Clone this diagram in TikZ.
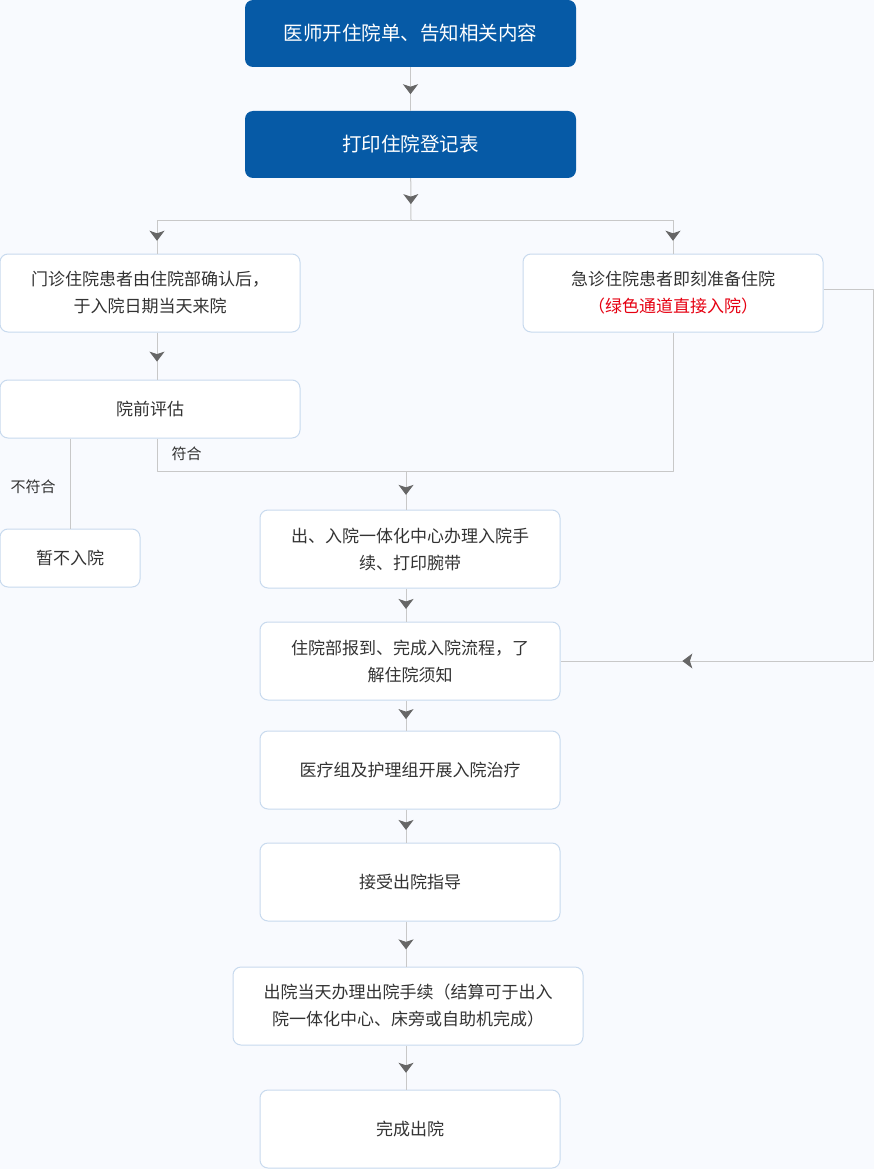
\documentclass[tikz,border=0pt]{standalone}
\usepackage{fontspec}
\setmainfont{Noto Sans CJK SC}
\usetikzlibrary{arrows.meta,decorations.markings}
\definecolor{bg}{RGB}{248,250,254}
\definecolor{navy}{RGB}{6,90,166}
\definecolor{rim}{RGB}{200,218,238}
\definecolor{wire}{RGB}{200,200,200}
\definecolor{tipgrey}{RGB}{102,102,102}
\definecolor{ink}{RGB}{51,51,51}
\definecolor{alert}{RGB}{230,0,18}
\tikzset{
  box/.style={draw=rim, fill=white, rounded corners=8pt, line width=1pt, inner sep=0pt,
    align=center, text=ink, font=\fontsize{17}{27}\selectfont},
  head/.style={fill=navy, rounded corners=8pt, inner sep=0pt, align=center, text=white,
    minimum width=331pt, minimum height=67pt, font=\fontsize{19.5}{27}\selectfont},
  wide/.style={minimum width=300pt, minimum height=78pt},
  link/.style={draw=wire, line width=1pt},
  midarrow/.style={postaction={decorate, decoration={markings,
    mark=at position #1 with {\arrow[color=tipgrey]{Stealth[length=10pt,width=15pt,inset=2.5pt]}}}}},
  midarrow/.default=.62,
  tag/.style={inner sep=0pt, text=ink, font=\fontsize{15}{15}\selectfont}
}
\begin{document}
\begin{tikzpicture}[x=1pt, y=-1pt, line join=round]
  \fill[bg] (0,0) rectangle (874,1169);
  \useasboundingbox (0,0) rectangle (874,1169);
  % boxes
  \node[head] (req) at (410.5,33.5) {医师开住院单、告知相关内容};
  \node[head] (reg) at (410.5,144.5) {打印住院登记表};
  \node[box,wide] (clinic) at (150,293) {门诊住院患者由住院部确认后，\\于入院日期当天来院};
  \node[box,wide] (urgent) at (673,293) {急诊住院患者即刻准备住院\\\textcolor{alert}{（绿色通道直接入院）}};
  \node[box,minimum width=300pt,minimum height=58pt] (assess) at (150,409) {院前评估};
  \node[box,minimum width=140pt,minimum height=58pt] (defer) at (70,558) {暂不入院};
  \node[box,wide] (admit) at (410,549) {出、入院一体化中心办理入院手\\续、打印腕带};
  \node[box,wide] (ward) at (410,661) {住院部报到、完成入院流程，了\\解住院须知};
  \node[box,wide] (treat) at (410,770) {医疗组及护理组开展入院治疗};
  \node[box,wide] (guide) at (410,882) {接受出院指导};
  \node[box,minimum width=350pt,minimum height=78pt] (settle) at (408,1006) {出院当天办理出院手续（结算可于出入\\院一体化中心、床旁或自助机完成）};
  \node[box,wide] (done) at (410,1129) {完成出院};
  \node[tag] (nofit) at (33,487) {不符合};
  \node[tag] (fit) at (186.5,454) {符合};
  % junctions
  \coordinate (fork) at (411,220);
  \coordinate (forkL) at (157,220);
  \coordinate (forkR) at (673,220);
  \coordinate (join) at (406,471);
  \coordinate (loopT) at (873,289);
  \coordinate (loop) at (873,661);
  % connectors
  \draw[link,midarrow] (req) -- (reg);
  \draw[link,midarrow] (reg) -- (fork);
  \draw[link] (forkL) -- (forkR);
  \draw[link,midarrow] (forkL) -- (forkL |- clinic.north);
  \draw[link,midarrow] (forkR) -- (urgent);
  \draw[link,midarrow] (forkL |- clinic.south) -- (forkL |- assess.north);
  \draw[link] (assess.south -| defer) -- (defer);
  \draw[link] (forkL |- assess.south) |- (urgent.south |- join) -- (urgent.south);
  \draw[link,midarrow] (join) -- (join |- admit.north);
  \draw[link,midarrow] (join |- admit.south) -- (join |- ward.north);
  \draw[link,midarrow] (join |- ward.south) -- (join |- treat.north);
  \draw[link,midarrow] (join |- treat.south) -- (join |- guide.north);
  \draw[link,midarrow] (join |- guide.south) -- (join |- settle.north);
  \draw[link,midarrow] (join |- settle.south) -- (join |- done.north);
  \draw[link] (loopT -| urgent.east) -- (loopT) -- (loop);
  \draw[link,midarrow=.61] (loop) -- (ward.east);
\end{tikzpicture}
\end{document}
